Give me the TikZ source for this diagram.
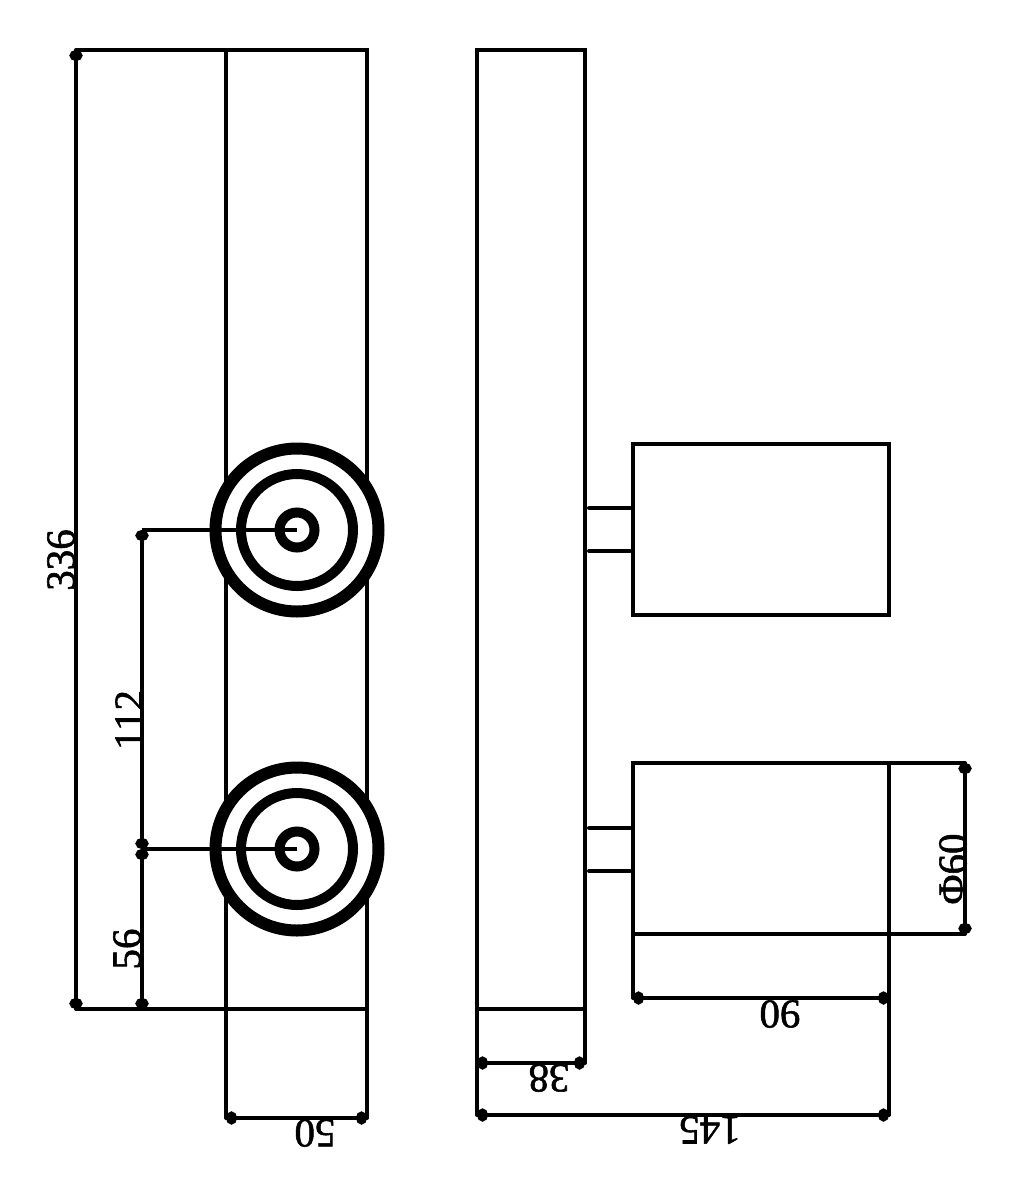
\documentclass[tikz,border=0pt]{standalone}
\usepackage{fontspec}
\setmainfont{Liberation Serif}[FakeBold=1.4]
\usetikzlibrary{arrows.meta}
\tikzset{
  x=1pt,y=-1pt,
  body/.style={draw=black,line width=4.6pt,line join=miter},
  thin/.style={draw=black,line width=4pt,line cap=round},
  dimline/.style={draw=black,line width=4pt,{Circle[length=11pt,width=13pt]}-{Circle[length=11pt,width=13pt]}},
  leader/.style={draw=black,line width=3.8pt},
  ring/.style={draw=black,fill=white,circle,inner sep=0pt,outer sep=0pt},
  dimtext/.style={inner sep=0pt,font=\fontsize{41}{41}\selectfont,text=black},
}
\begin{document}
\begin{tikzpicture}
\useasboundingbox[fill=white] (0,0) rectangle (1026,1200);
% key points
\coordinate (Ltl) at (226,50); \coordinate (Ltr) at (367,50);
\coordinate (Lbl) at (226,1009); \coordinate (Lbr) at (367,1009);
\coordinate (Ta) at (76,50); \coordinate (Tb) at (76,1009);
\coordinate (Ca) at (297,530); \coordinate (Cb) at (297,849);
\coordinate (Da) at (142,530); \coordinate (Db) at (142,849); \coordinate (Dc) at (142,1009);
\coordinate (W1) at (226,1118); \coordinate (W2) at (367,1118);
\coordinate (Rtl) at (477,50); \coordinate (Rtr) at (585,50);
\coordinate (Rbl) at (477,1009); \coordinate (Rbr) at (585,1009);
\coordinate (S1) at (477,1063); \coordinate (S2) at (585,1063);
\coordinate (F1) at (477,1115); \coordinate (F2) at (889,1115);
\coordinate (N1) at (633,998); \coordinate (N2) at (889,998);
\coordinate (P1) at (965,763); \coordinate (P2) at (965,934);
% left view
\draw[body] (Ltl) rectangle (Lbr);
\draw[thin] (Ta) -- (Ltl);
\draw[thin] (Tb) -- (Lbl);
\draw[thin] (Lbl) -- (W1);
\draw[thin] (Lbr) -- (W2);
% rings
\foreach \c/\n in {Ca/a,Cb/b}{
  \node[ring,line width=12pt,minimum size=163pt] (outer\n) at (\c) {};
  \node[ring,line width=10pt,minimum size=112pt] (mid\n) at (\c) {};
  \node[ring,line width=10pt,minimum size=35pt] (inner\n) at (\c) {};
}
\draw[leader] (Da) -- (Ca);
\draw[leader] (Db) -- (Cb);
\draw[dimline] (Ta) -- (Tb);
\draw[dimline] (Da) -- (Db);
\draw[dimline] (Db) -- (Dc);
\draw[thin] (Dc) -- (Lbl);
\draw[dimline] (W1) -- (W2);
% right view
\draw[body] (Rtl) rectangle (Rbr);
\draw[thin] (Rbl) -- (F1);
\draw[thin] (Rbr) -- (S2);
\draw[dimline] (S1) -- (S2);
\draw[dimline] (F1) -- (F2);
\draw[body] (633,444) rectangle (889,615);
\draw[body] (633,763) rectangle (889,934);
\draw[thin] (589,508) -- (630,508);
\draw[thin] (589,551) -- (630,551);
\draw[thin] (589,828) -- (630,828);
\draw[thin] (589,871) -- (630,871);
\draw[thin] (889,934) -- (F2);
\draw[thin] (633,934) -- (N1);
\draw[dimline] (N1) -- (N2);
\draw[thin] (889,763) -- (P1);
\draw[thin] (889,934) -- (P2);
\draw[dimline] (P1) -- (P2);
% labels
\node[dimtext,rotate=90] (t336) at (61,560) {336};
\node[dimtext,rotate=90] (t112) at (129,720) {112};
\node[dimtext,rotate=90] (t56) at (127,949) {56};
\node[dimtext,rotate=90] (t60) at (953,869) {Φ60};
\node[dimtext,rotate=180] (t50) at (315,1133) {50};
\node[dimtext,rotate=180] (t38) at (549,1078) {38};
\node[dimtext,rotate=180] (t90) at (780,1014) {90};
\node[dimtext,rotate=180] (t145) at (710,1130) {145};
\end{tikzpicture}
\end{document}
